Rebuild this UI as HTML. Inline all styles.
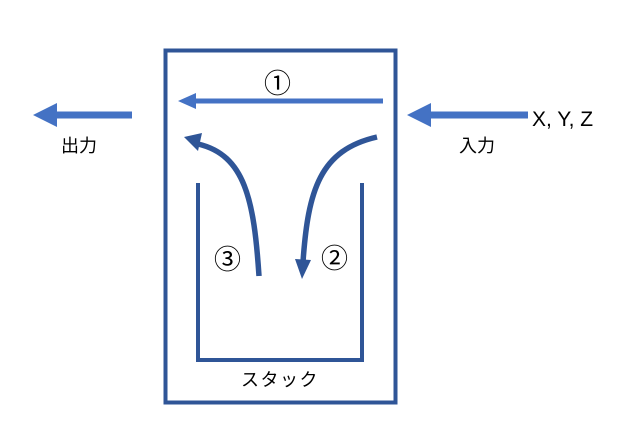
<!DOCTYPE html>
<html><head><meta charset="utf-8"><style>
body{margin:0;background:#fff;width:628px;height:440px;overflow:hidden}
svg text{font-family:"Liberation Sans","Noto Sans CJK JP",sans-serif;fill:#000}
</style></head><body>
<svg width="628" height="440" viewBox="0 0 628 440">
<rect x="165.5" y="50.5" width="230" height="352" fill="none" stroke="#2F5597" stroke-width="4"/>
<polyline points="198,183 198,360 362,360 362,183" fill="none" stroke="#2F5597" stroke-width="4"/>
<line x1="383" y1="101" x2="193" y2="101" stroke="#4472C4" stroke-width="5"/>
<polygon points="178,101 196,93 196,109" fill="#4472C4"/>
<line x1="132" y1="115" x2="54" y2="115" stroke="#4472C4" stroke-width="7"/>
<polygon points="33,115 57,103 57,127" fill="#4472C4"/>
<line x1="528" y1="115" x2="428" y2="115" stroke="#4472C4" stroke-width="7"/>
<polygon points="407,115 431,103 431,127" fill="#4472C4"/>
<path d="M377,137 C320,150 308,190 303,262" fill="none" stroke="#2F5597" stroke-width="5.5"/>
<polygon points="302,279 295,259 311,260" fill="#2F5597"/>
<path d="M259,276 C254,200 245,155 198,144" fill="none" stroke="#2F5597" stroke-width="5.5"/>
<polygon points="184,137 202,133 198,151" fill="#2F5597"/>
<text x="264" y="93" font-size="27">①</text>
<text x="321" y="268" font-size="27">②</text>
<text x="214" y="269" font-size="27">③</text>
<text x="61" y="152" font-size="18">出力</text>
<text x="459" y="152" font-size="18">入力</text>
<text x="532" y="126" font-size="21">X, Y, Z</text>
<text x="241" y="386" font-size="18" letter-spacing="1.5">スタック</text>
</svg>
</body></html>
